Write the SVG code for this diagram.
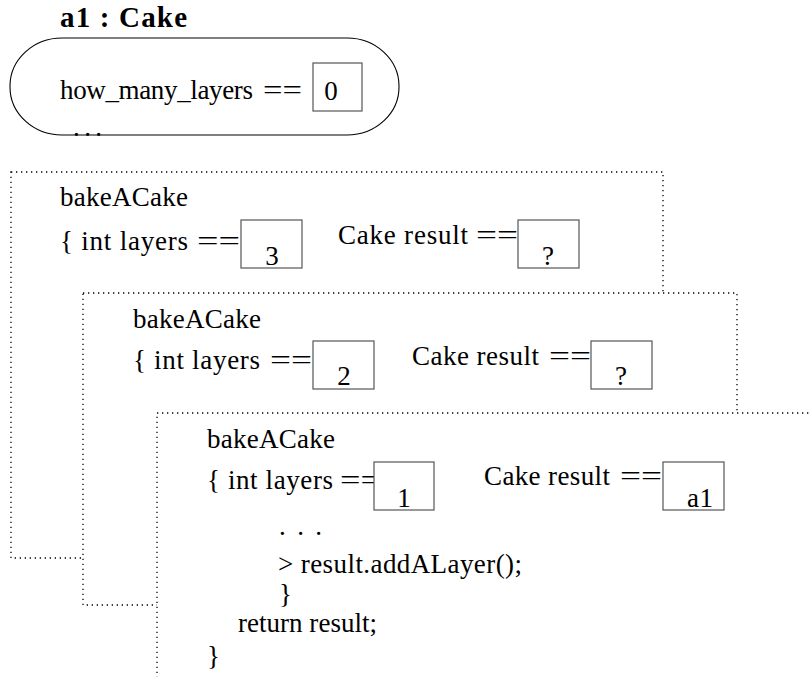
<svg xmlns="http://www.w3.org/2000/svg" width="809" height="677" viewBox="0 0 809 677">
<style>
text{font-family:"Liberation Serif","Times New Roman",serif;font-size:27px;fill:#000}
.b{font-weight:bold;font-size:29px}
.frame{fill:#fff;stroke:#000;stroke-width:1.3;stroke-dasharray:1.3 3.7}
.val{fill:#fff;stroke:#555;stroke-width:1.2}
.mid{text-anchor:middle}
</style>
<rect width="809" height="677" fill="#fff"/>
<g id="object-a1">
<text class="b" x="60" y="27" textLength="127" lengthAdjust="spacing">a1 : Cake</text>
<text x="73" y="136" textLength="29" lengthAdjust="spacing">...</text>
<rect x="10" y="38" width="389" height="97" rx="52" ry="48" fill="none" stroke="#000" stroke-width="1.1"/>
<text x="60" y="99" textLength="193" lengthAdjust="spacing">how_many_layers</text>
<text x="263" y="99" textLength="39" lengthAdjust="spacingAndGlyphs">==</text>
<rect class="val" x="313" y="63" width="49" height="48"/>
<text class="mid" x="331" y="100">0</text>
</g>
<g id="frame1">
<rect class="frame" x="11" y="172" width="652" height="386"/>
<text x="60" y="206" textLength="128" lengthAdjust="spacing">bakeACake</text>
<text x="60" y="250" textLength="128" lengthAdjust="spacing">{ int layers</text>
<text x="197" y="250" textLength="43" lengthAdjust="spacingAndGlyphs">==</text>
<rect class="val" x="241" y="220" width="61" height="48"/>
<text class="mid" x="272" y="265">3</text>
<text x="338" y="244" textLength="130" lengthAdjust="spacing">Cake result</text>
<text x="476" y="244" textLength="42" lengthAdjust="spacingAndGlyphs">==</text>
<rect class="val" x="518" y="220" width="61" height="48"/>
<text class="mid" x="548" y="265">?</text>
</g>
<g id="frame2">
<rect class="frame" x="83" y="293" width="654" height="312"/>
<text x="133" y="328" textLength="128" lengthAdjust="spacing">bakeACake</text>
<text x="133" y="369" textLength="127" lengthAdjust="spacing">{ int layers</text>
<text x="270" y="369" textLength="42" lengthAdjust="spacingAndGlyphs">==</text>
<rect class="val" x="313" y="341" width="61" height="48"/>
<text class="mid" x="344" y="385">2</text>
<text x="412" y="365" textLength="127" lengthAdjust="spacing">Cake result</text>
<text x="549" y="365" textLength="42" lengthAdjust="spacingAndGlyphs">==</text>
<rect class="val" x="591" y="341" width="61" height="48"/>
<text class="mid" x="621" y="385">?</text>
</g>
<g id="frame3">
<rect class="frame" x="157" y="413" width="700" height="320"/>
<text x="207" y="448" textLength="128" lengthAdjust="spacing">bakeACake</text>
<text x="207" y="489" textLength="126" lengthAdjust="spacing">{ int layers</text>
<text x="340" y="489" textLength="41" lengthAdjust="spacingAndGlyphs">==</text>
<rect class="val" x="374" y="462" width="60" height="48"/>
<text class="mid" x="404" y="507">1</text>
<text x="484" y="485" textLength="126" lengthAdjust="spacing">Cake result</text>
<text x="620" y="485" textLength="42" lengthAdjust="spacingAndGlyphs">==</text>
<rect class="val" x="663" y="462" width="61" height="48"/>
<text x="687" y="507" textLength="26" lengthAdjust="spacing">a1</text>
<text x="279" y="535" textLength="43" lengthAdjust="spacing">. . .</text>
<text x="278" y="573" textLength="244" lengthAdjust="spacing">&gt; result.addALayer();</text>
<text x="279" y="603">}</text>
<text x="238" y="632" textLength="139" lengthAdjust="spacing">return result;</text>
<text x="207" y="665">}</text>
</g>
<g id="connectors"></g>
</svg>
